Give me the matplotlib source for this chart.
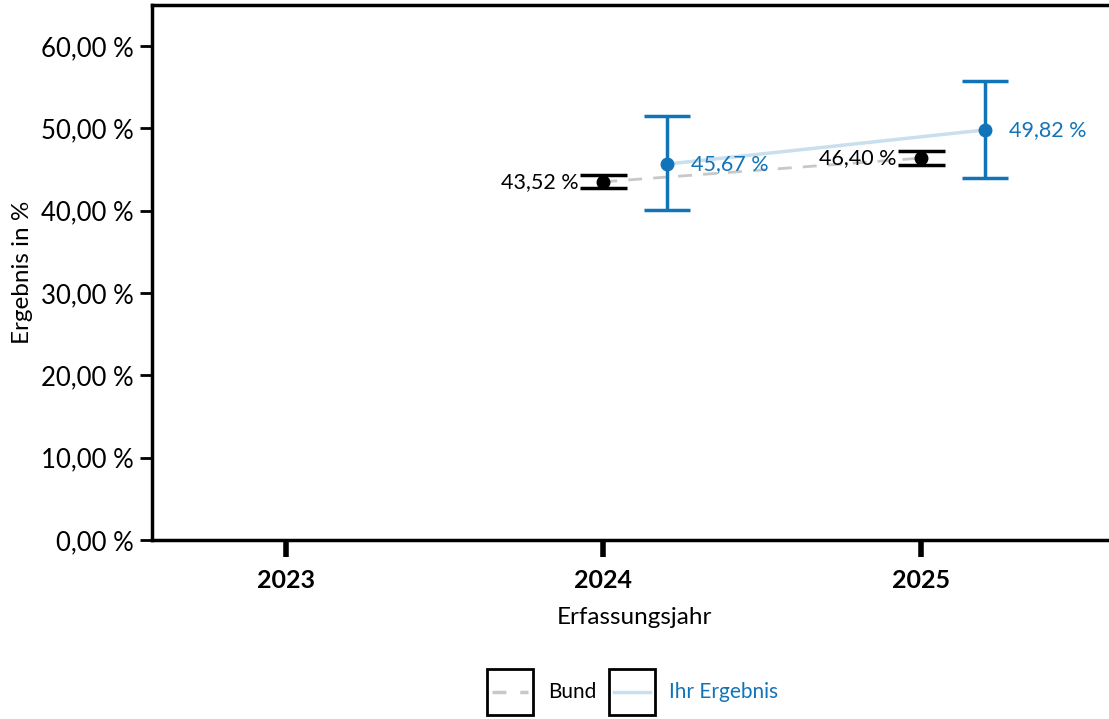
import matplotlib
matplotlib.use("Agg")
import matplotlib.pyplot as plt
from matplotlib.patches import Rectangle
from matplotlib.lines import Line2D

plt.rcParams['font.family'] = ['Lato', 'DejaVu Sans']

years = [2023, 2024, 2025]
bund_years = [2024, 2025]
bund = [43.52, 46.40]
bund_lo = [42.76, 45.55]
bund_hi = [44.33, 47.25]
ihr_years = [2024, 2025]
ihr = [45.67, 49.82]
ihr_lo = [40.08, 43.97]
ihr_hi = [51.50, 55.75]
offset = 0.2

blue = '#1174b9'
light_blue = '#c9dfee'
grey = '#c8c8c8'

W, H = 1109, 719
fig = plt.figure(figsize=(W / 100, H / 100), dpi=100)
ax_w = (W - 152 + 22) / W
ax = fig.add_axes([152 / W, 1 - 540 / H, ax_w, (540 - 5) / H])


def fmt(v):
    return f"{v:.2f}".replace('.', ',') + ' %'


# connecting lines
ax.plot(bund_years, bund, color=grey, lw=2, ls=(0, (5, 4)), zorder=1)
ihr_x = [y + offset for y in ihr_years]
ax.plot(ihr_x, ihr, color=light_blue, lw=2.5, zorder=1)

# Bund: caps only
for x, v, lo, hi in zip(bund_years, bund, bund_lo, bund_hi):
    ax.hlines([lo, hi], x - 0.074, x + 0.074, color='black', lw=2.5, zorder=2)
    ax.plot(x, v, 'o', color='black', ms=9, zorder=3)
    ax.text(x - 0.078, v, fmt(v), ha='right', va='center', fontsize=15.5, color='black')

# Ihr Ergebnis: error bars
for x, v, lo, hi in zip(ihr_x, ihr, ihr_lo, ihr_hi):
    ax.errorbar(x, v, yerr=[[v - lo], [hi - v]], fmt='o', color=blue, ms=9,
                elinewidth=2.5, capsize=23.5 * 0.72, capthick=2.5, zorder=3)
    ax.text(x + 0.075, v, fmt(v), ha='left', va='center', fontsize=15.5, color=blue)

ax.set_xlim(2022.58, 2025.66)
ax.set_ylim(0, 65)
ax.set_xticks(years)
ax.set_xticklabels([str(y) for y in years], fontsize=18, fontweight='bold')
yt = [0, 10, 20, 30, 40, 50, 60]
ax.set_yticks(yt)
ax.set_yticklabels([fmt(v) for v in yt], fontsize=18.5)
ax.tick_params(axis='y', length=9, width=2, pad=4)
ax.tick_params(axis='x', length=12, width=4, pad=9)
for s in ['left', 'top', 'bottom']:
    ax.spines[s].set_linewidth(2.5)
ax.spines['right'].set_visible(False)
ax.set_xlabel('Erfassungsjahr', fontsize=17.5, labelpad=12)
ax.xaxis.set_label_coords((634 - 152) / (ax_w * W), -0.125)
ax.set_ylabel('Ergebnis in %', fontsize=17.5, labelpad=6)

# legend with boxed handles
tf = fig.transFigure


def fx(px):
    return px / W


def fy(py):
    return 1 - py / H


for x0, style, col in [(487, (0, (4, 4)), grey), (609, '-', light_blue)]:
    fig.add_artist(Rectangle((fx(x0), fy(715)), 46 / W, 46 / H, transform=tf,
                             fill=False, edgecolor='black', lw=2))
    fig.add_artist(Line2D([fx(x0 + 5), fx(x0 + 41)], [fy(692), fy(692)], transform=tf,
                          color=col, lw=2.5, ls=style))
fig.text(fx(548), fy(692), 'Bund', fontsize=15, va='center', ha='left', color='black')
fig.text(fx(669), fy(692), 'Ihr Ergebnis', fontsize=15, va='center', ha='left', color=blue)

fig.savefig('out.png', dpi=100)
